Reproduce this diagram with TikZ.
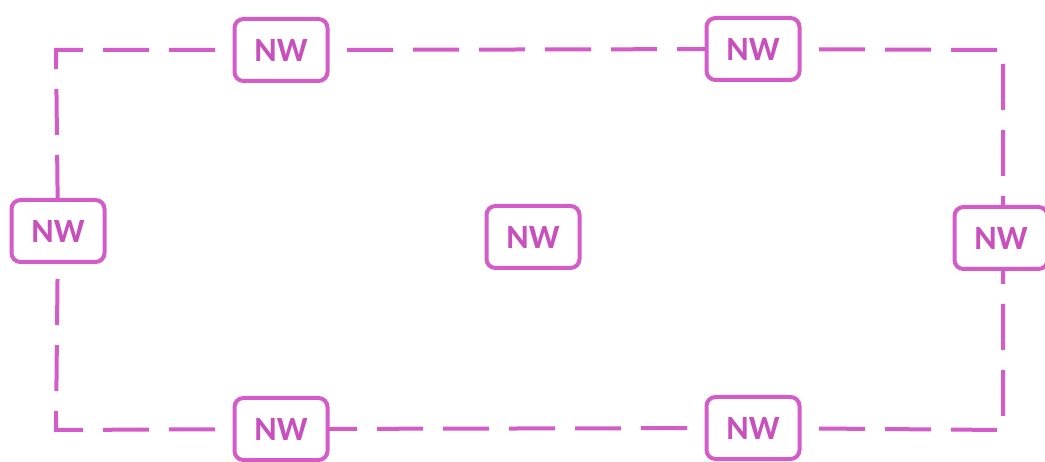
\documentclass[tikz,border=0pt]{standalone}
\usepackage{fontspec}
\setmainfont{Carlito}
\definecolor{nwpink}{RGB}{212,92,200}
\definecolor{nwtext}{RGB}{200,80,188}
\begin{document}
\begin{tikzpicture}[x=1pt,y=-1pt,
  nwbox/.style={draw=nwpink, line width=4pt, rounded corners=9pt, fill=white,
    minimum width=93pt, minimum height=62pt, inner sep=0pt,
    font=\fontsize{34}{34}\selectfont\bfseries, text=nwtext},
  ring/.style={draw=nwpink, line width=4pt, dash pattern=on 46pt off 20pt}]
\useasboundingbox (0,0) rectangle (1045,462);
\clip (0,0) rectangle (1045,462);
% corners of the dashed ring
\coordinate (k1) at (56,50);
\coordinate (k2) at (1003,50);
\coordinate (k3) at (1003,430);
\coordinate (k4) at (56,430);
% ring segments, drawn first so the boxes sit over them
\path[ring] (281,50) -- (k1) -- (58,231);
\path[ring] (281,50) -- (753,49);
\path[ring] (753,49) -- (k2) -- (1003,238);
\path[ring] (1003,238) -- (k3) -- (753,428);
\path[ring] (753,428) -- (281,429);
\path[ring] (281,429) -- (k4) -- (58,231);
% boxes
\node[nwbox] (tl) at (281,50) {NW};
\node[nwbox] (tr) at (753,49) {NW};
\node[nwbox] (l) at (58,231) {NW};
\node[nwbox] (c) at (533,237) {NW};
\node[nwbox] (r) at (1001,238) {NW};
\node[nwbox] (bl) at (281,429) {NW};
\node[nwbox] (br) at (753,428) {NW};
\end{tikzpicture}
\end{document}
